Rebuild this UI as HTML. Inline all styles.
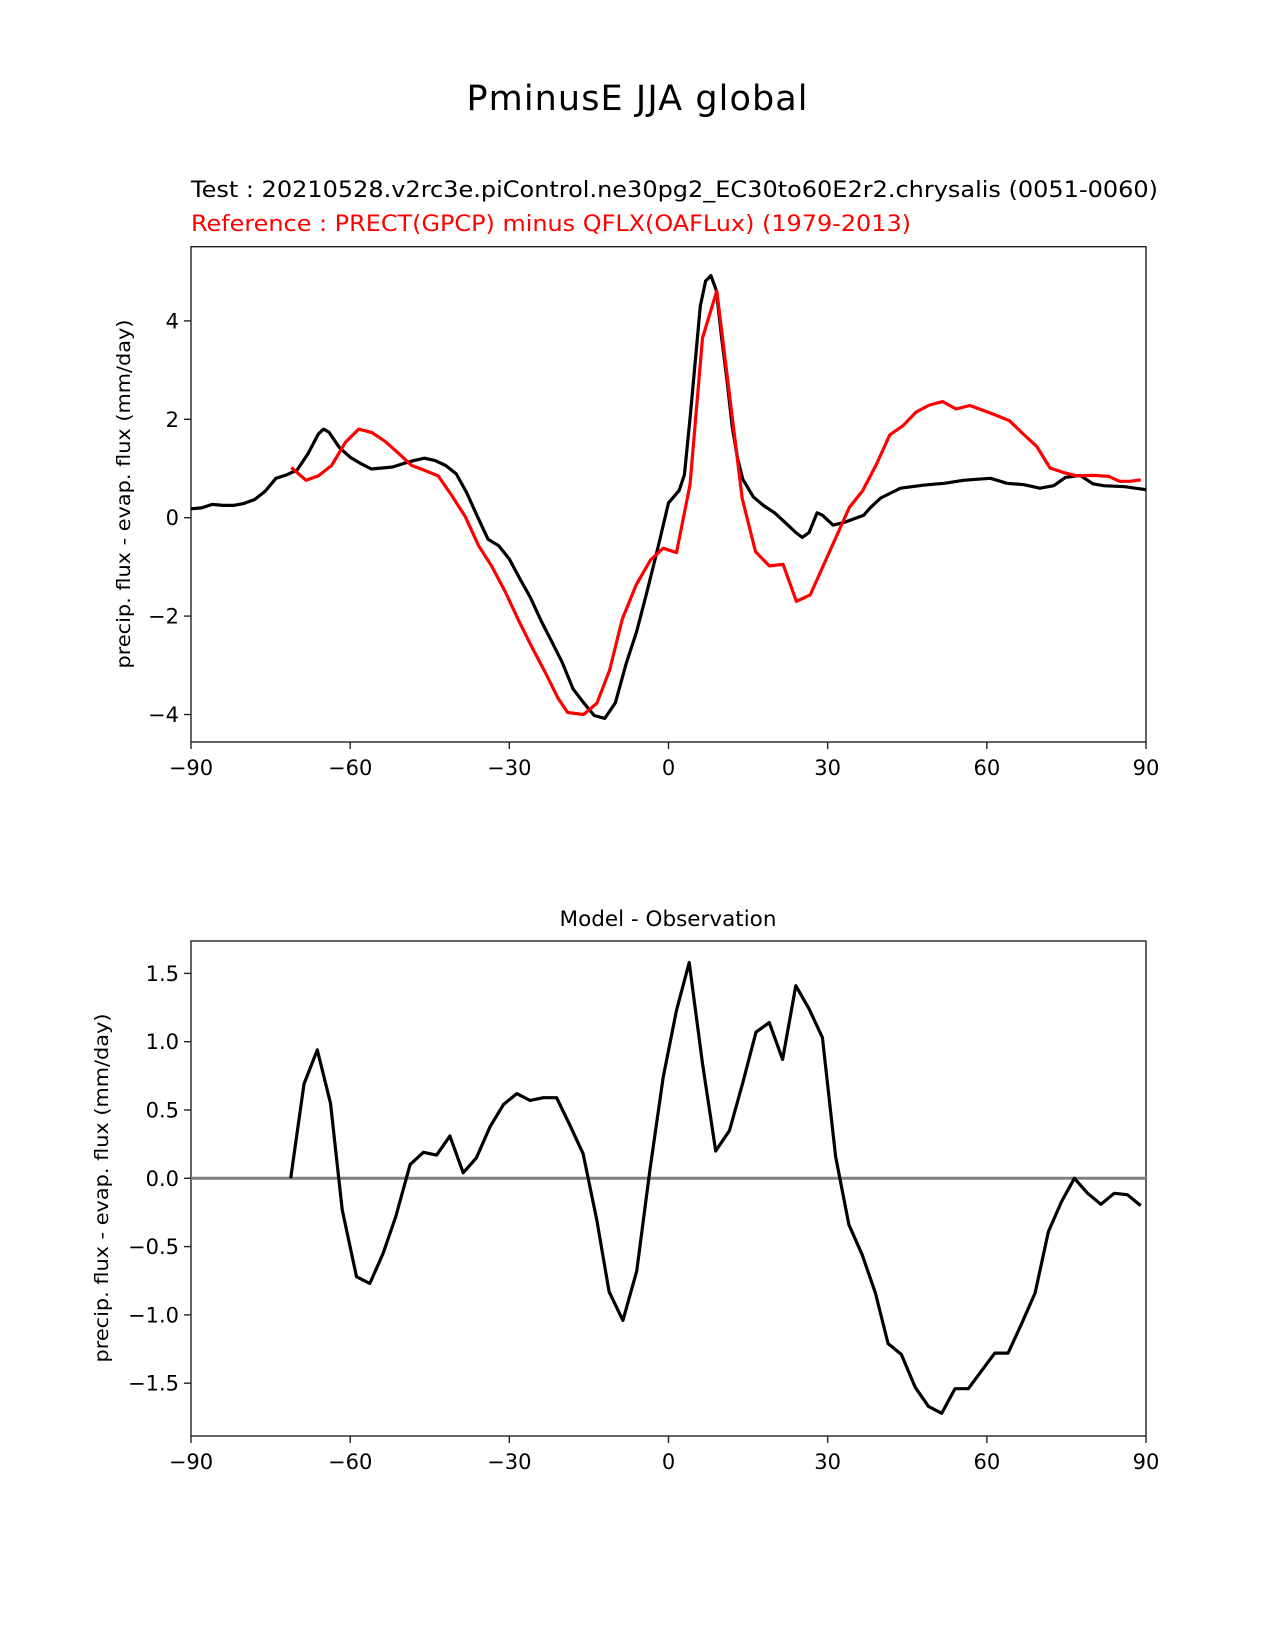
<!DOCTYPE html>
<html><head><meta charset="utf-8"><style>
html,body{margin:0;padding:0;background:#fff}
svg{display:block}
text{font-family:"DejaVu Sans","Liberation Sans",sans-serif}
</style></head><body>
<svg id="fig" width="1275" height="1650" viewBox="0 0 1275 1650" xmlns="http://www.w3.org/2000/svg">
<rect width="1275" height="1650" fill="#fff"/>
<text x="637" y="110" font-size="35" text-anchor="middle" textLength="341">PminusE JJA global</text>
<text x="191" y="197" font-size="22.5" textLength="967" lengthAdjust="spacingAndGlyphs">Test : 20210528.v2rc3e.piControl.ne30pg2_EC30to60E2r2.chrysalis (0051-0060)</text>
<text x="191" y="231" font-size="22.5" fill="#ff0000" textLength="720" lengthAdjust="spacingAndGlyphs">Reference : PRECT(GPCP) minus QFLX(OAFLux) (1979-2013)</text>
<text x="668" y="926" font-size="21.5" text-anchor="middle">Model - Observation</text>
<text transform="translate(130,494) rotate(-90)" font-size="19" text-anchor="middle" textLength="349" lengthAdjust="spacingAndGlyphs">precip. flux - evap. flux (mm/day)</text>
<text transform="translate(108,1188) rotate(-90)" font-size="19" text-anchor="middle" textLength="349" lengthAdjust="spacingAndGlyphs">precip. flux - evap. flux (mm/day)</text>
<g id="top"></g>
<g id="bot"></g>
</svg>
<script>
const xTicks = [-90, -60, -30, 0, 30, 60, 90];
const topYTicks = [-4, -2, 0, 2, 4];
const botYTicks = [-1.5, -1.0, -0.5, 0.0, 0.5, 1.0, 1.5];
const botYTickLabels = ["\u22121.5", "\u22121.0", "\u22120.5", "0.0", "0.5", "1.0", "1.5"];

const testLat = [-90,-88,-86,-84,-82,-80,-78,-76,-74,-72,-70,-68,-66,-65,-64,-62,-60,-58,-56,-54,-52,-50,-48,-46,-44,-42,-40,-38,-36,-34,-32,-30,-28,-26,-24,-22,-20,-18,-16,-14,-12,-10,-8,-6,-4,-2,0,2,3,4,5,6,7,8,9,10,11,12,13,14,16,18,20,22,24,25.2,26.5,28,29,31,33,36.8,38,40,43.7,48,50,52,55.6,58,60.7,63.8,67,70,72.6,74.8,77.6,80,82,84,86,88,90];
const testVal = [0.18,0.20,0.27,0.25,0.25,0.29,0.37,0.54,0.80,0.87,0.97,1.29,1.70,1.80,1.74,1.42,1.23,1.10,0.99,1.01,1.03,1.10,1.16,1.21,1.16,1.06,0.89,0.50,0.02,-0.44,-0.57,-0.84,-1.24,-1.63,-2.10,-2.52,-2.95,-3.48,-3.76,-4.02,-4.08,-3.76,-2.97,-2.31,-1.48,-0.61,0.30,0.55,0.87,1.95,3.12,4.30,4.81,4.92,4.62,3.66,2.81,1.85,1.21,0.78,0.42,0.24,0.10,-0.10,-0.30,-0.40,-0.30,0.10,0.05,-0.15,-0.10,0.05,0.20,0.40,0.60,0.66,0.68,0.70,0.76,0.78,0.80,0.70,0.67,0.60,0.65,0.82,0.86,0.69,0.65,0.64,0.63,0.60,0.57];

const refLat = [-71.1,-68.3,-66.0,-63.5,-60.9,-58.4,-55.9,-53.4,-50.9,-48.4,-45.9,-43.4,-40.9,-38.3,-35.8,-33.3,-30.8,-28.3,-25.8,-23.3,-20.8,-19,-16,-13.5,-11.1,-8.7,-6.1,-3.4,-1.0,1.5,4.05,6.4,9.1,13.9,16.4,19,21.6,24.1,26.7,34.1,36.6,39.2,41.7,44.2,46.7,49.2,51.7,54.2,56.8,59.3,61.8,64.3,66.9,69.4,71.9,74.4,77,80.1,83,85,87,89];
const refVal = [1.02,0.76,0.85,1.06,1.53,1.80,1.73,1.55,1.31,1.06,0.96,0.85,0.46,0.02,-0.57,-0.99,-1.50,-2.08,-2.62,-3.13,-3.67,-3.96,-4.00,-3.77,-3.10,-2.06,-1.37,-0.86,-0.62,-0.71,0.67,3.65,4.61,0.39,-0.69,-0.98,-0.95,-1.70,-1.57,0.21,0.55,1.09,1.68,1.87,2.15,2.29,2.36,2.21,2.28,2.18,2.08,1.97,1.70,1.45,1.01,0.92,0.85,0.86,0.84,0.74,0.74,0.77];

const diffLat = [-71.2,-68.7,-66.2,-63.7,-61.5,-58.8,-56.3,-53.8,-51.4,-48.7,-46.2,-43.7,-41.2,-38.7,-36.2,-33.6,-31.1,-28.6,-26.1,-23.6,-21.1,-18.6,-16.1,-13.5,-11.2,-8.6,-6.0,-3.5,-1.0,1.5,3.9,6.4,8.9,11.5,14.0,16.5,19.0,21.5,24.0,26.5,29.0,31.5,34.0,36.5,39.0,41.4,43.9,46.5,49.0,51.5,54.0,56.5,59.0,61.5,64.0,66.6,69.1,71.6,74.1,76.5,79.0,81.5,84.0,86.5,89.0];
const diffVal = [0.00,0.69,0.94,0.55,-0.23,-0.72,-0.77,-0.55,-0.28,0.10,0.19,0.17,0.31,0.04,0.15,0.38,0.54,0.62,0.57,0.59,0.59,0.39,0.18,-0.31,-0.83,-1.04,-0.68,0.06,0.74,1.23,1.58,0.84,0.20,0.35,0.70,1.07,1.14,0.87,1.41,1.24,1.03,0.16,-0.34,-0.56,-0.84,-1.21,-1.29,-1.53,-1.67,-1.72,-1.54,-1.54,-1.41,-1.28,-1.28,-1.06,-0.84,-0.39,-0.17,0.00,-0.11,-0.19,-0.11,-0.12,-0.20];

const NS = "http://www.w3.org/2000/svg";
function mk(tag, parent, attrs){
  const e = document.createElementNS(NS, tag);
  for (const k in attrs) e.setAttribute(k, attrs[k]);
  parent.appendChild(e);
  return e;
}
const X0 = 191, X1 = 1146;
function xs(lat){ return X0 + (lat + 90) / 180 * (X1 - X0); }

function panel(g, top, bottom, y0px, pxPerUnit, yTicks, yLabels, tickLabelY, prefix){
  const ys = v => y0px - v * pxPerUnit;
  const frame = mk('rect', g, {x:X0, y:top, width:X1-X0, height:bottom-top, fill:'none', stroke:'#222', 'stroke-width':1.4});
  
  
  xTicks.forEach(t => {
    const x = xs(t);
    const tk = mk('line', g, {x1:x, x2:x, y1:bottom, y2:bottom+7, stroke:'#222', 'stroke-width':1.4});
    
    
    const lb = mk('text', g, {x:x, y:tickLabelY, 'font-size':21, 'text-anchor':'middle'});
    lb.textContent = t < 0 ? '\u2212' + Math.abs(t) : String(t);
    
    
  });
  yTicks.forEach((t, i) => {
    const y = ys(t);
    const tk = mk('line', g, {x1:X0-7, x2:X0, y1:y, y2:y, stroke:'#222', 'stroke-width':1.4});
    
    
    const lb = mk('text', g, {x:X0-12, y:y+7.5, 'font-size':21, 'text-anchor':'end'});
    lb.textContent = yLabels ? yLabels[i] : (t < 0 ? '\u2212' + Math.abs(t) : String(t));
    
    
  });
  return ys;
}
function line(g, lats, vals, ys, color, w){
  const d = lats.map((l, i) => (i ? 'L' : 'M') + xs(l).toFixed(1) + ',' + ys(vals[i]).toFixed(1)).join(' ');
  return mk('path', g, {d:d, fill:'none', stroke:color, 'stroke-width':w, 'stroke-linejoin':'round'});
}

const gt = document.getElementById('top');
const ysTop = panel(gt, 246.7, 742, 517.7, 49.2, topYTicks, null, 775, 'top');
const pt = line(gt, testLat, testVal, ysTop, '#000', 3.2);


const pr = line(gt, refLat, refVal, ysTop, '#ff0000', 3.2);



const gb = document.getElementById('bot');
const ysBot = panel(gb, 941, 1436, 1178.3, 136.6, botYTicks, botYTickLabels, 1469, 'bottom');
const zl = mk('line', gb, {x1:X0, x2:X1, y1:ysBot(0), y2:ysBot(0), stroke:'#808080', 'stroke-width':3});


const pd = line(gb, diffLat, diffVal, ysBot, '#000', 3.2);


</script>
</body></html>
